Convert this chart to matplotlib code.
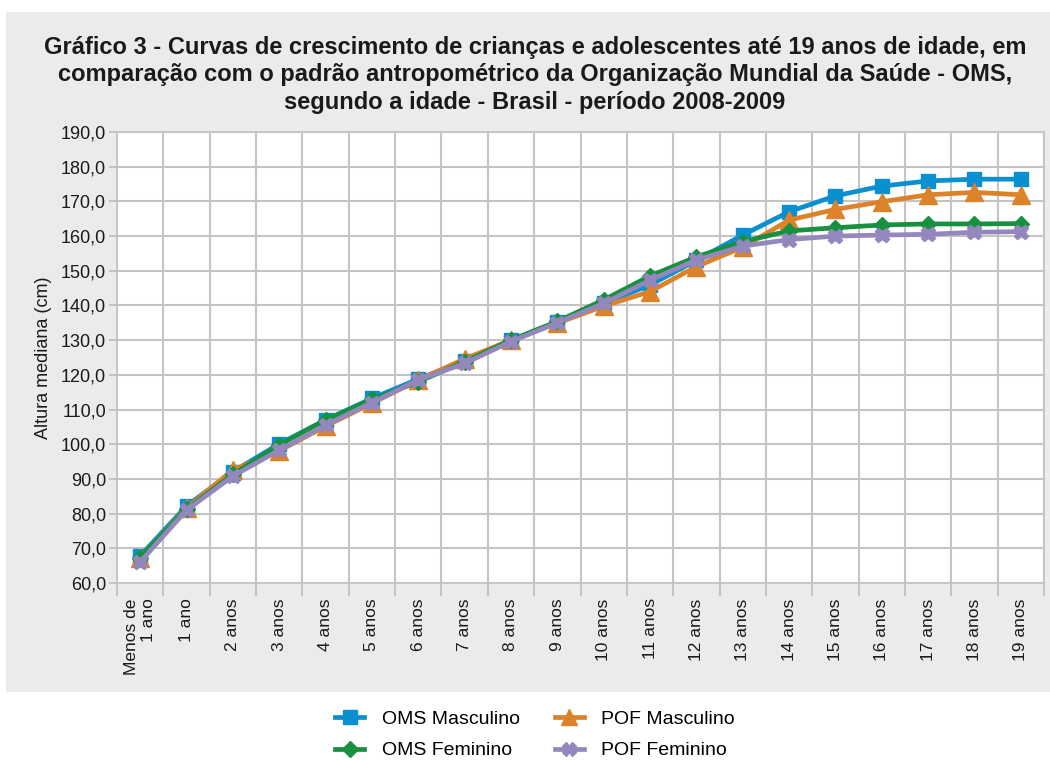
import matplotlib.pyplot as plt
import numpy as np

plt.rcParams['font.family'] = ['Liberation Sans', 'DejaVu Sans']

# age categories
idades = ['Menos de\n1 ano', '1 ano', '2 anos', '3 anos', '4 anos', '5 anos',
          '6 anos', '7 anos', '8 anos', '9 anos', '10 anos', '11 anos',
          '12 anos', '13 anos', '14 anos', '15 anos', '16 anos', '17 anos',
          '18 anos', '19 anos']

# median height (cm)
oms_masc = [67.8, 82.2, 92.1, 100.1, 107.0, 113.2, 118.8, 124.0, 130.0, 135.2,
            140.6, 145.9, 153.0, 160.3, 167.0, 171.6, 174.4, 175.9, 176.4, 176.4]
pof_masc = [67.2, 81.6, 92.6, 98.1, 105.2, 111.8, 118.5, 124.6, 130.0, 134.9,
            139.8, 144.0, 151.2, 156.8, 164.6, 167.7, 169.9, 171.9, 172.6, 171.9]
oms_fem = [67.3, 81.3, 91.3, 99.8, 107.0, 112.9, 118.0, 123.8, 130.0, 135.4,
           141.6, 148.5, 154.0, 158.4, 161.5, 162.4, 163.2, 163.5, 163.5, 163.6]
pof_fem = [66.1, 81.0, 90.8, 98.3, 105.5, 112.0, 118.5, 123.3, 129.6, 135.0,
           140.6, 147.3, 153.1, 157.1, 159.0, 160.0, 160.3, 160.5, 161.1, 161.3]

titulo = ('Gráfico 3 - Curvas de crescimento de crianças e adolescentes até 19 anos de idade, em\n'
          'comparação com o padrão antropométrico da Organização Mundial da Saúde - OMS,\n'
          'segundo a idade - Brasil - período 2008-2009')

fig = plt.figure(figsize=(10.5, 7.6), dpi=100)
fig.patch.set_facecolor('white')

# grey panel behind the chart
bg = fig.add_axes([6 / 1050, 1 - 692 / 760, 1044 / 1050, 680 / 760], zorder=-1)
bg.set_facecolor('#ebebeb')
bg.set_xticks([])
bg.set_yticks([])
for s in bg.spines.values():
    s.set_visible(False)

ax = fig.add_axes([117 / 1050, 1 - 583 / 760, 927 / 1050, 451 / 760])
ax.set_facecolor('white')

x = np.arange(len(idades))
ax.plot(x, oms_masc, color='#0a8fd0', lw=3.4, marker='s', ms=10.5, label='OMS Masculino', zorder=3)
ax.plot(x, pof_masc, color='#dc8229', lw=3.4, marker='^', ms=12.5, label='POF Masculino', zorder=4)
ax.plot(x, oms_fem, color='#17903f', lw=3.4, marker='D', ms=8.5, label='OMS Feminino', zorder=5)
ax.plot(x, pof_fem, color='#9487bd', lw=3.4, marker='X', ms=10.5, label='POF Feminino', zorder=6)

ax.set_xlim(-0.5, len(idades) - 0.5)
ax.set_ylim(60, 190)
ax.set_yticks(np.arange(60, 191, 10))
ax.set_yticklabels([f'{v:.1f}'.replace('.', ',') for v in range(60, 191, 10)])

ax.set_xticks(x)
ax.set_xticklabels(idades, rotation=90, va='top', ha='center', multialignment='right')
ax.set_xticks(np.arange(-0.5, len(idades), 1), minor=True)
ax.tick_params(axis='x', which='major', length=0, pad=11, labelsize=12.5, labelcolor='#1a1a1a')
ax.tick_params(axis='x', which='minor', length=9, color='#bfbfbf', width=1.3)
ax.tick_params(axis='y', length=6, color='#bfbfbf', width=1.3, pad=2, labelsize=13, labelcolor='#1a1a1a')

ax.grid(True, axis='y', which='major', color='#c4c4c4', lw=1.5)
ax.grid(True, axis='x', which='minor', color='#c4c4c4', lw=1.5)
ax.set_axisbelow(True)
for s in ax.spines.values():
    s.set_color('#c4c4c4')
    s.set_linewidth(1.3)

ax.set_ylabel('Altura mediana (cm)', fontsize=13, color='#1a1a1a', labelpad=6)

fig.text(535 / 1050, 1 - 75 / 760, titulo, ha='center', va='center',
         fontsize=17, fontweight='bold', color='#1a1a1a', linespacing=1.25)

h, l = ax.get_legend_handles_labels()
order = [0, 2, 1, 3]
fig.legend([h[i] for i in order], [l[i] for i in order], ncol=2, loc='center',
           bbox_to_anchor=(535 / 1050, 1 - 735 / 760), frameon=False, fontsize=14,
           handlelength=1.5, handletextpad=0.9, columnspacing=1.8, labelspacing=0.7,
           markerscale=0.9)

plt.savefig('out.png', dpi=100)
